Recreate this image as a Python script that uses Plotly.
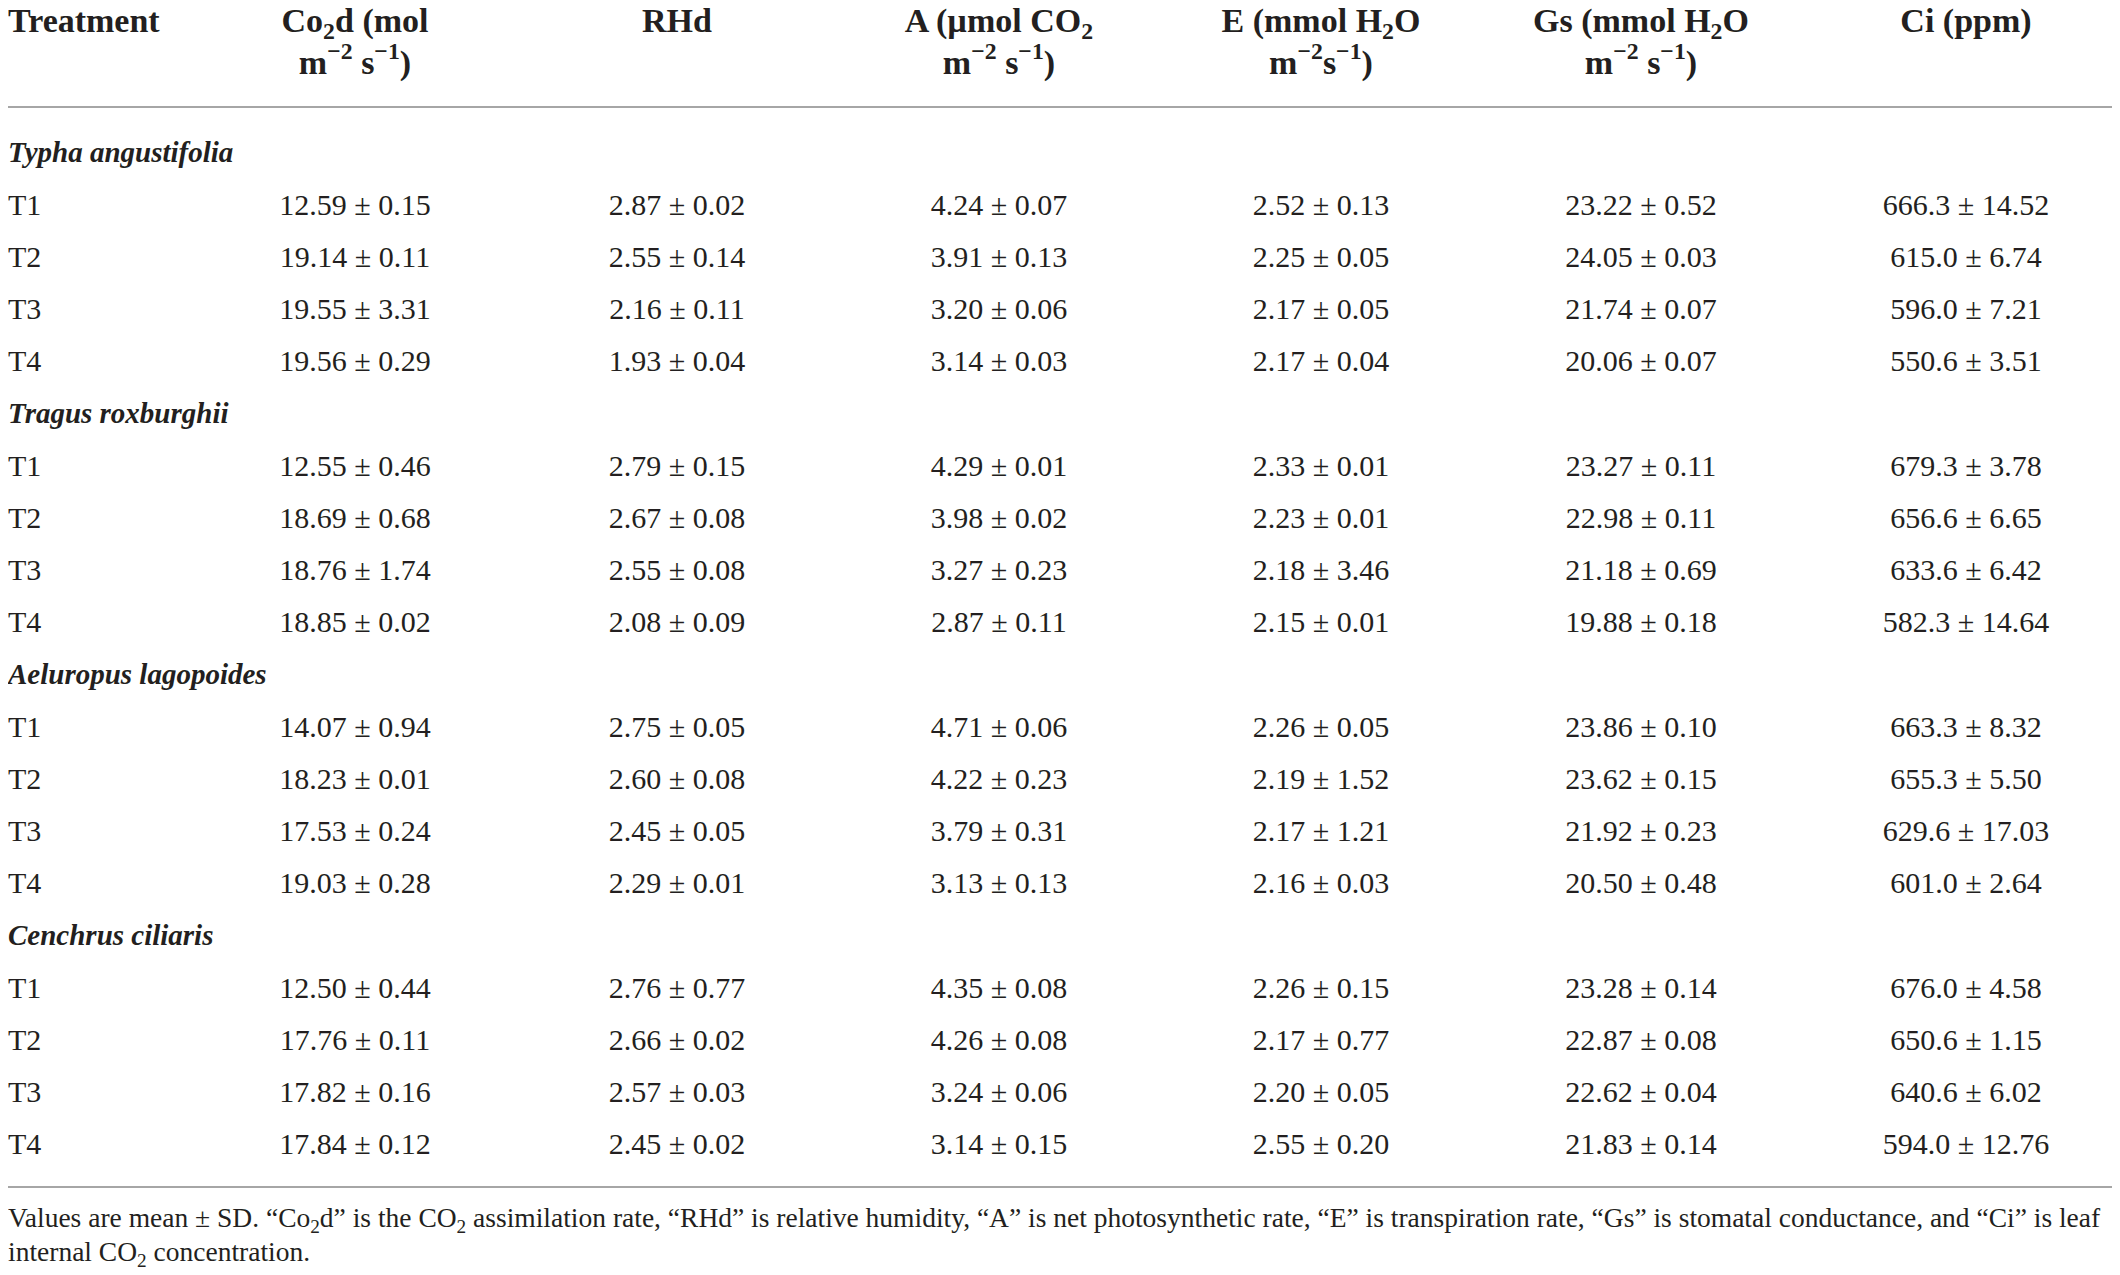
import plotly.graph_objects as go

# table content
columns = ["Treatment", "Co<sub>2</sub>d (mol", "RHd", "A (µmol CO<sub>2</sub>",
           "E (mmol H<sub>2</sub>O", "Gs (mmol H<sub>2</sub>O", "Ci (ppm)"]
columns_line2 = ["", "m<sup>−2</sup> s<sup>−1</sup>)", "", "m<sup>−2</sup> s<sup>−1</sup>)",
                 "m<sup>−2</sup>s<sup>−1</sup>)", "m<sup>−2</sup> s<sup>−1</sup>)", ""]
species = ["Typha angustifolia", "Tragus roxburghii", "Aeluropus lagopoides", "Cenchrus ciliaris"]
treatments = ["T1", "T2", "T3", "T4"]

# mean and SD, 4 treatments per species, species in the order above
co2d_mean = [12.59, 19.14, 19.55, 19.56, 12.55, 18.69, 18.76, 18.85,
             14.07, 18.23, 17.53, 19.03, 12.50, 17.76, 17.82, 17.84]
co2d_sd = [0.15, 0.11, 3.31, 0.29, 0.46, 0.68, 1.74, 0.02,
           0.94, 0.01, 0.24, 0.28, 0.44, 0.11, 0.16, 0.12]
rhd_mean = [2.87, 2.55, 2.16, 1.93, 2.79, 2.67, 2.55, 2.08,
            2.75, 2.60, 2.45, 2.29, 2.76, 2.66, 2.57, 2.45]
rhd_sd = [0.02, 0.14, 0.11, 0.04, 0.15, 0.08, 0.08, 0.09,
          0.05, 0.08, 0.05, 0.01, 0.77, 0.02, 0.03, 0.02]
a_mean = [4.24, 3.91, 3.20, 3.14, 4.29, 3.98, 3.27, 2.87,
          4.71, 4.22, 3.79, 3.13, 4.35, 4.26, 3.24, 3.14]
a_sd = [0.07, 0.13, 0.06, 0.03, 0.01, 0.02, 0.23, 0.11,
        0.06, 0.23, 0.31, 0.13, 0.08, 0.08, 0.06, 0.15]
e_mean = [2.52, 2.25, 2.17, 2.17, 2.33, 2.23, 2.18, 2.15,
          2.26, 2.19, 2.17, 2.16, 2.26, 2.17, 2.20, 2.55]
e_sd = [0.13, 0.05, 0.05, 0.04, 0.01, 0.01, 3.46, 0.01,
        0.05, 1.52, 1.21, 0.03, 0.15, 0.77, 0.05, 0.20]
gs_mean = [23.22, 24.05, 21.74, 20.06, 23.27, 22.98, 21.18, 19.88,
           23.86, 23.62, 21.92, 20.50, 23.28, 22.87, 22.62, 21.83]
gs_sd = [0.52, 0.03, 0.07, 0.07, 0.11, 0.11, 0.69, 0.18,
         0.10, 0.15, 0.23, 0.48, 0.14, 0.08, 0.04, 0.14]
ci_mean = [666.3, 615.0, 596.0, 550.6, 679.3, 656.6, 633.6, 582.3,
           663.3, 655.3, 629.6, 601.0, 676.0, 650.6, 640.6, 594.0]
ci_sd = [14.52, 6.74, 7.21, 3.51, 3.78, 6.65, 6.42, 14.64,
         8.32, 5.50, 17.03, 2.64, 4.58, 1.15, 6.02, 12.76]

footnote = ["Values are mean ± SD. “Co<sub>2</sub>d” is the CO<sub>2</sub> assimilation rate, “RHd” is relative humidity, "
            "“A” is net photosynthetic rate, “E” is transpiration rate, “Gs” is stomatal conductance, and “Ci” is leaf",
            "internal CO<sub>2</sub> concentration."]

# layout in pixels (page body has an 8px margin, so the figure is 16px smaller)
W, H = 2104, 1259
FONT = "Liberation Serif"
INK = "#231f20"
col_x = [0, 347, 669, 991, 1313, 1633, 1958]
row0, row_step = 147, 52.2
head_y = [15, 57]
rule_y = [99, 1179]
foot_y = [1212, 1246]

value_cols = [(co2d_mean, co2d_sd, 2), (rhd_mean, rhd_sd, 2), (a_mean, a_sd, 2),
              (e_mean, e_sd, 2), (gs_mean, gs_sd, 2), (ci_mean, ci_sd, 1)]


def font(size):
    return dict(family=FONT, size=size, color=INK)


fig = go.Figure()

# header
fig.add_trace(go.Scatter(x=[col_x[0]], y=[head_y[0]], text=["<b>%s</b>" % columns[0]],
                         mode="text", textposition="middle right", textfont=font(34)))
fig.add_trace(go.Scatter(x=col_x[1:], y=[head_y[0]] * 6,
                         text=["<b>%s</b>" % c for c in columns[1:]],
                         mode="text", textposition="middle center", textfont=font(34)))
fig.add_trace(go.Scatter(x=[col_x[i] for i in range(1, 7) if columns_line2[i]],
                         y=[head_y[1]] * 4,
                         text=["<b>%s</b>" % c for c in columns_line2[1:] if c],
                         mode="text", textposition="middle center", textfont=font(34)))

# body
sp_y, sp_txt = [], []
tr_y, tr_txt = [], []
cell_x, cell_y, cell_txt = [], [], []
row = 0
for s, sp in enumerate(species):
    sp_y.append(row0 + row * row_step)
    sp_txt.append("<b><i>%s</i></b>" % sp)
    row += 1
    for t, tr in enumerate(treatments):
        k = s * 4 + t
        y = row0 + row * row_step
        tr_y.append(y)
        tr_txt.append(tr)
        for c, (m, sd, dec) in enumerate(value_cols):
            cell_x.append(col_x[c + 1])
            cell_y.append(y)
            cell_txt.append(f"{m[k]:.{dec}f} ± {sd[k]:.2f}")
        row += 1

fig.add_trace(go.Scatter(x=[col_x[0]] * len(sp_y), y=sp_y, text=sp_txt,
                         mode="text", textposition="middle right", textfont=font(29)))
fig.add_trace(go.Scatter(x=[col_x[0]] * len(tr_y), y=tr_y, text=tr_txt,
                         mode="text", textposition="middle right", textfont=font(30)))
fig.add_trace(go.Scatter(x=cell_x, y=cell_y, text=cell_txt,
                         mode="text", textposition="middle center", textfont=font(30)))

# footnote
fig.add_trace(go.Scatter(x=[col_x[0]] * 2, y=foot_y, text=footnote,
                         mode="text", textposition="middle right", textfont=font(27.5)))

for y in rule_y:
    fig.add_shape(type="line", x0=0, x1=W, y0=y, y1=y, xref="x", yref="y",
                  line=dict(color="#a6a6a6", width=2))

fig.update_traces(hoverinfo="skip", cliponaxis=False)

fig.update_layout(
    width=W, height=H,
    margin=dict(l=0, r=0, t=0, b=0),
    paper_bgcolor="white", plot_bgcolor="white",
    showlegend=False, hovermode=False,
    xaxis=dict(range=[0, W], visible=False, fixedrange=True),
    yaxis=dict(range=[H, 0], visible=False, fixedrange=True),
)

fig.write_html("out.html")
